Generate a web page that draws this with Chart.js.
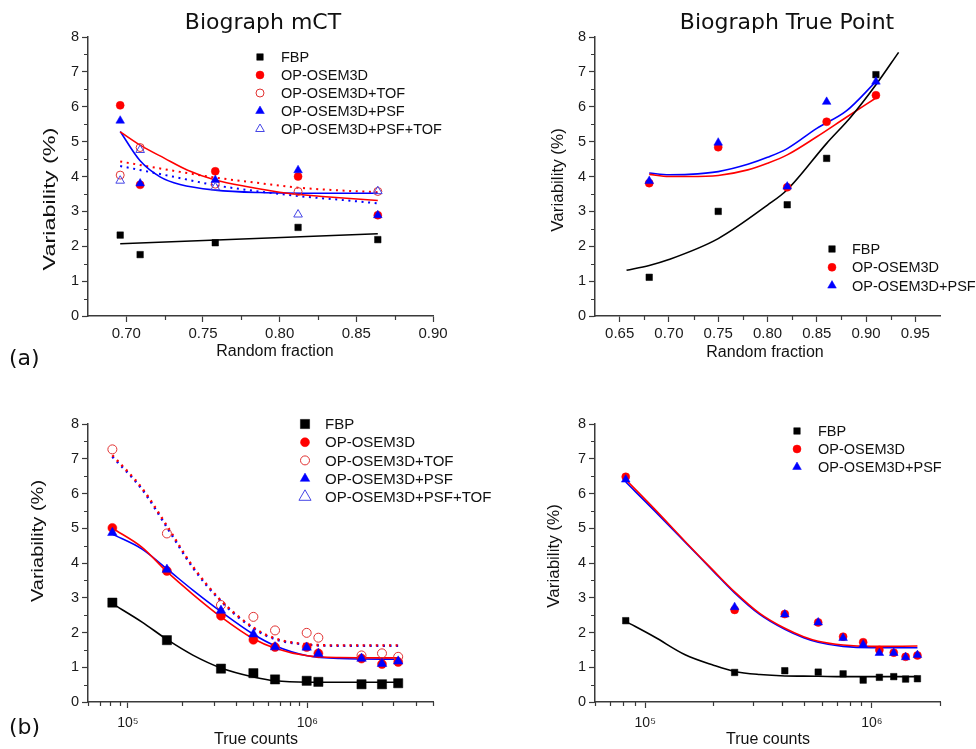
<!DOCTYPE html>
<html><head><meta charset="utf-8">
<script src="https://cdn.jsdelivr.net/npm/chart.js@4.4.1/dist/chart.umd.min.js"></script>
<style>
html,body{margin:0;padding:0;background:#fff;}
#wrap{position:relative;width:976px;height:749px;overflow:hidden;background:#fff;}
canvas{position:absolute;left:0;top:0;}
.t{position:absolute;white-space:nowrap;color:#111;line-height:1;}
.ttl{font-family:'DejaVu Sans',sans-serif;font-size:22px;transform:translate(-50%,-50%);}
.lab{font-family:'DejaVu Sans',sans-serif;font-size:22px;transform:translate(0,-50%);}
.ax{font-family:'Liberation Sans',Arial,sans-serif;font-size:16px;transform:translate(-50%,-50%);}
.yt{font-family:'Liberation Sans',Arial,sans-serif;font-size:17px;}
</style></head><body>
<div id="wrap">
<canvas id="cAL" width="976" height="749"></canvas>
<canvas id="cAR" width="976" height="749"></canvas>
<canvas id="cBL" width="976" height="749"></canvas>
<canvas id="cBR" width="976" height="749"></canvas>
<div class="t ttl" style="left:263px;top:22px">Biograph mCT</div>
<div class="t ttl" style="left:787px;top:22px">Biograph True Point</div>
<div class="t lab" style="left:9px;top:358px">(a)</div>
<div class="t lab" style="left:9px;top:727px">(b)</div>
<div class="t ax" style="left:275px;top:351px">Random fraction</div>
<div class="t ax" style="left:765px;top:352px">Random fraction</div>
<div class="t ax" style="left:256px;top:739px">True counts</div>
<div class="t ax" style="left:768px;top:739px">True counts</div>
<div class="t yt" style="left:49px;top:199px;transform:translate(-50%,-50%) rotate(-90deg) scaleX(1.38)">Variability (%)</div>
<div class="t yt" style="left:557px;top:180px;transform:translate(-50%,-50%) rotate(-90deg)">Variability (%)</div>
<div class="t yt" style="left:37px;top:541px;transform:translate(-50%,-50%) rotate(-90deg) scaleX(1.18)">Variability (%)</div>
<div class="t yt" style="left:553px;top:556px;transform:translate(-50%,-50%) rotate(-90deg)">Variability (%)</div>
</div>
<script>
// ---------- Tick labels ----------
const yTicks = [0,1,2,3,4,5,6,7,8];
const aL_xTicks = [0.70,0.75,0.80,0.85,0.90];
const aL_xTickLabels = ['0.70','0.75','0.80','0.85','0.90'];
const aR_xTicks = [0.65,0.70,0.75,0.80,0.85,0.90,0.95];
const aR_xTickLabels = ['0.65','0.70','0.75','0.80','0.85','0.90','0.95'];
const b_xTicks = [1e5,1e6];
const b_xTickLabels = ['10\u2075','10\u2076'];
const seriesNames = ['FBP','OP-OSEM3D','OP-OSEM3D+TOF','OP-OSEM3D+PSF','OP-OSEM3D+PSF+TOF'];

// ---------- (a) Biograph mCT : variability vs random fraction ----------
const aL_x       = [0.696, 0.709, 0.758, 0.812, 0.864];
const aL_fbp     = [2.32, 1.76, 2.10, 2.54, 2.19];
const aL_osem    = [6.04, 3.76, 4.15, 4.00, 2.89];
const aL_tof     = [4.04, 4.83, 3.78, 3.57, 3.57];
const aL_psf     = [5.60, 3.80, 3.90, 4.18, 2.89];
const aL_psftof  = [3.88, 4.76, 3.69, 2.91, 3.58];
// fitted curves
const aL_fitFbpX = [0.696, 0.864];
const aL_fitFbp  = [2.07, 2.36];
const aL_fitOsemX = [0.696,0.709,0.725,0.740,0.758,0.780,0.805,0.830,0.864];
const aL_fitOsem  = [5.28, 4.90, 4.52, 4.18, 3.90, 3.70, 3.52, 3.42, 3.31];
const aL_fitPsfX  = [0.696,0.709,0.722,0.735,0.758,0.787,0.830,0.864];
const aL_fitPsf   = [5.29, 4.45, 3.99, 3.77, 3.61, 3.54, 3.52, 3.52];
const aL_fitTofX  = [0.696,0.730,0.758,0.785,0.812,0.840,0.864];
const aL_fitTof   = [4.43, 4.17, 3.97, 3.82, 3.68, 3.60, 3.55];
const aL_fitPsfTofX = [0.696,0.730,0.758,0.785,0.812,0.840,0.864];
const aL_fitPsfTof  = [4.30, 4.00, 3.75, 3.58, 3.44, 3.33, 3.23];

// ---------- (a) Biograph True Point ----------
const aR_x    = [0.68, 0.75, 0.82, 0.86, 0.91];
const aR_fbp  = [1.11, 3.00, 3.19, 4.52, 6.92];
const aR_osem = [3.81, 4.84, 3.69, 5.57, 6.33];
const aR_psf  = [3.87, 4.97, 3.71, 6.14, 6.72];
const aR_fitFbpX = [0.657,0.680,0.700,0.750,0.800,0.820,0.860,0.885,0.910,0.933];
const aR_fitFbp  = [1.31, 1.45, 1.62, 2.22, 3.18, 3.62, 4.95, 5.72, 6.63, 7.56];
const aR_fitX    = [0.68,0.70,0.72,0.75,0.78,0.80,0.82,0.85,0.88,0.91];
const aR_fitOsem = [4.06,4.00,4.00,4.03,4.19,4.38,4.62,5.14,5.70,6.25];
const aR_fitPsf  = [4.10,4.05,4.06,4.14,4.35,4.55,4.80,5.38,5.88,6.72];

// ---------- (b) Biograph mCT : variability vs true counts ----------
const bL_x      = [8.2e4, 1.65e5, 3.3e5, 5.0e5, 6.6e5, 9.9e5, 1.15e6, 2.0e6, 2.6e6, 3.2e6];
const bL_fbp    = [2.86, 1.78, 0.96, 0.83, 0.65, 0.61, 0.58, 0.51, 0.51, 0.54];
const bL_osem   = [5.01, 3.77, 2.48, 1.79, 1.58, 1.58, 1.40, 1.25, 1.09, 1.15];
const bL_tof    = [7.27, 4.85, 2.79, 2.45, 2.06, 1.99, 1.85, 1.34, 1.40, 1.30];
const bL_psf    = [4.87, 3.81, 2.63, 1.95, 1.58, 1.57, 1.39, 1.25, 1.10, 1.17];
const bL_psftofX = [];
const bL_psftof  = [];
const bL_fitX      = [8.2e4, 1.2e5, 1.65e5, 2.3e5, 3.3e5, 5.0e5, 6.6e5, 1.0e6, 1.5e6, 3.2e6];
const bL_fitFbp    = [2.83, 2.30, 1.80, 1.35, 0.98, 0.72, 0.61, 0.57, 0.57, 0.57];
const bL_fitOsem   = [5.00, 4.45, 3.75, 3.10, 2.45, 1.82, 1.55, 1.33, 1.28, 1.27];
const bL_fitPsf    = [4.83, 4.40, 3.83, 3.22, 2.60, 1.95, 1.62, 1.33, 1.25, 1.23];
const bL_fitTof    = [7.10, 6.15, 5.07, 3.90, 2.92, 2.14, 1.83, 1.66, 1.63, 1.63];
const bL_fitPsfTof = [7.06, 6.12, 5.03, 3.87, 2.90, 2.12, 1.81, 1.65, 1.62, 1.62];

// ---------- (b) Biograph True Point ----------
const bR_x    = [8.2e4, 2.48e5, 4.13e5, 5.8e5, 7.47e5, 9.16e5, 1.08e6, 1.25e6, 1.41e6, 1.59e6];
const bR_fbp  = [2.34, 0.85, 0.90, 0.86, 0.81, 0.63, 0.71, 0.73, 0.66, 0.67];
const bR_osem = [6.48, 2.65, 2.53, 2.29, 1.88, 1.72, 1.50, 1.42, 1.30, 1.34];
const bR_psf  = [6.40, 2.73, 2.52, 2.29, 1.84, 1.65, 1.41, 1.41, 1.29, 1.35];
const bR_fitX    = [8.2e4, 1.1e5, 1.5e5, 2.0e5, 2.48e5, 3.2e5, 4.13e5, 5.0e5, 5.8e5, 7.47e5, 1.0e6, 1.59e6];
const bR_fitFbp  = [2.32, 1.87, 1.36, 1.06, 0.88, 0.79, 0.75, 0.745, 0.74, 0.73, 0.73, 0.73];
const bR_fitOsem = [6.40, 5.55, 4.62, 3.78, 3.17, 2.55, 2.12, 1.88, 1.75, 1.64, 1.60, 1.61];
const bR_fitPsf  = [6.33, 5.50, 4.60, 3.76, 3.14, 2.52, 2.09, 1.85, 1.72, 1.60, 1.56, 1.56];

// ---------- helpers ----------
const RED = '#ff0000', BLUE = '#0000ff', BLACK = '#000000';
const pts = (xs, ys) => xs.map((x, i) => ({x, y: ys[i]}));

function marker(label, xs, ys, style, color, open, r, order) {
  return {
    label, data: pts(xs, ys), inLegend: true, order,
    pointStyle: style, pointRadius: r, pointHoverRadius: r,
    backgroundColor: open ? 'rgba(0,0,0,0)' : color,
    borderColor: open ? (color === RED ? 'rgb(225,50,50)' : 'rgb(70,70,230)') : color,
    pointBorderWidth: open ? 1 : 0.5, showLine: false
  };
}
function fit(xs, ys, color, dotted, w) {
  return {
    label: '', data: pts(xs, ys), inLegend: false, order: 100,
    showLine: true, pointRadius: 0, pointHoverRadius: 0, borderColor: color,
    borderWidth: w || (dotted ? 2 : 1.6), borderDash: dotted ? [2, 4.6] : [],
    cubicInterpolationMode: 'monotone', fill: false
  };
}

function drawMarker(ctx, style, x, y, r, fillC, strokeC, lw) {
  ctx.save();
  ctx.beginPath();
  if (style === 'rect') {
    const s = r * Math.SQRT1_2;
    ctx.rect(x - s, y - s, 2 * s, 2 * s);
  } else if (style === 'triangle') {
    let a = 0;
    ctx.moveTo(x + Math.sin(a) * r, y - Math.cos(a) * r);
    a += 2 * Math.PI / 3;
    ctx.lineTo(x + Math.sin(a) * r, y - Math.cos(a) * r);
    a += 2 * Math.PI / 3;
    ctx.lineTo(x + Math.sin(a) * r, y - Math.cos(a) * r);
    ctx.closePath();
  } else {
    ctx.arc(x, y, r, 0, Math.PI * 2);
  }
  ctx.fillStyle = fillC; ctx.fill();
  ctx.lineWidth = lw; ctx.strokeStyle = strokeC; ctx.stroke();
  ctx.restore();
}

const legendPlugin = {
  id: 'ptLegend',
  afterDraw(chart, args, o) {
    if (!o || !o.show) return;
    const ctx = chart.ctx;
    ctx.save();
    ctx.font = o.font;
    ctx.textBaseline = 'middle';
    let row = 0;
    chart.data.datasets.forEach(ds => {
      if (!ds.inLegend) return;
      const y = o.y + row * o.dy;
      drawMarker(ctx, ds.pointStyle, o.markerX, y, (o.r && o.r[row]) || ds.pointRadius,
                 ds.backgroundColor, ds.borderColor, ds.pointBorderWidth);
      ctx.fillStyle = '#111';
      ctx.fillText(ds.label, o.textX, y + 1);
      row++;
    });
    ctx.restore();
  }
};

const minorPlugin = {
  id: 'minorTicks',
  afterDraw(chart, args, o) {
    if (!o || !o.show) return;
    const ctx = chart.ctx, ca = chart.chartArea;
    const xs = chart.scales.x, ys = chart.scales.y;
    ctx.save();
    ctx.strokeStyle = '#3a3a3a'; ctx.lineWidth = 1.2;
    ctx.beginPath();
    (o.x || []).forEach(v => {
      const p = Math.round(xs.getPixelForValue(v)) + 0.5;
      ctx.moveTo(p, ca.bottom); ctx.lineTo(p, ca.bottom + o.len);
    });
    (o.y || []).forEach(v => {
      const p = Math.round(ys.getPixelForValue(v)) + 0.5;
      ctx.moveTo(ca.left, p); ctx.lineTo(ca.left - o.len, p);
    });
    ctx.stroke();
    ctx.restore();
  }
};

Chart.defaults.font.family = "'Liberation Sans', Arial, sans-serif";
Chart.defaults.font.size = 14;
Chart.defaults.color = '#1a1a1a';
Chart.defaults.animation = false;

const yMinor = [0.5,1.5,2.5,3.5,4.5,5.5,6.5,7.5];
const decadeMinor = (decades, mults) => decades.flatMap(d => mults.map(m => m * d));
const Y_W = 60, X_H = 40;   // fixed scale box sizes

function axisCommon() {
  return {
    grid: { display: true, drawOnChartArea: false, drawTicks: true, tickLength: 6,
            tickColor: '#3a3a3a', tickWidth: 1.2 },
    border: { display: true, color: '#3a3a3a', width: 1.5 },
    afterFit: s => { if (s.isHorizontal()) s.height = X_H; else s.width = Y_W; }
  };
}

// area = chart-area edges in page pixels
function makeChart(id, area, xCfg, datasets, legend, minor) {
  const pad = { left: area.left - Y_W, top: area.top, right: 976 - area.right, bottom: 749 - area.bottom - X_H };
  const yAxis = Object.assign(axisCommon(), {
    type: 'linear', min: 0, max: 8,
    afterBuildTicks: s => { s.ticks = yTicks.map(v => ({value: v})); },
    ticks: { padding: 3, autoSkip: false, font: {size: 14.5}, callback: v => String(v) }
  });
  const xAxis = Object.assign(axisCommon(), xCfg);
  return new Chart(document.getElementById(id), {
    type: 'scatter',
    data: { datasets },
    options: {
      responsive: false, devicePixelRatio: 1,
      layout: { padding: pad },
      plugins: { legend: {display: false}, tooltip: {enabled: false},
                 ptLegend: legend, minorTicks: minor },
      scales: { x: xAxis, y: yAxis }
    },
    plugins: [legendPlugin, minorPlugin]
  });
}

function linX(min, max, ticks, labels) {
  return {
    type: 'linear', min, max,
    afterBuildTicks: s => { s.ticks = ticks.map(v => ({value: v})); },
    ticks: { padding: 3, autoSkip: false, maxRotation: 0, font: {size: 15},
             callback: (v, i) => labels[i] }
  };
}
function logX(min, max) {
  return {
    type: 'logarithmic', min, max,
    afterBuildTicks: s => { s.ticks = b_xTicks.map(v => ({value: v})); },
    ticks: { padding: 7, autoSkip: false, maxRotation: 0, font: {size: 14},
             callback: (v, i) => b_xTickLabels[i] }
  };
}

// ---- Panel (a) left ----
makeChart('cAL', {left: 88, top: 37, right: 433, bottom: 316},
  linX(0.675, 0.90, aL_xTicks, aL_xTickLabels),
  [
    marker(seriesNames[0], aL_x, aL_fbp, 'rect', BLACK, false, 4.6, 10),
    marker(seriesNames[1], aL_x, aL_osem, 'circle', RED, false, 4, 9),
    marker(seriesNames[2], aL_x, aL_tof, 'circle', RED, true, 4, 8),
    marker(seriesNames[3], aL_x, aL_psf, 'triangle', BLUE, false, 5, 7),
    marker(seriesNames[4], aL_x, aL_psftof, 'triangle', BLUE, true, 5, 6),
    fit(aL_fitFbpX, aL_fitFbp, BLACK, false),
    fit(aL_fitOsemX, aL_fitOsem, RED, false),
    fit(aL_fitPsfX, aL_fitPsf, BLUE, false),
    fit(aL_fitTofX, aL_fitTof, RED, true),
    fit(aL_fitPsfTofX, aL_fitPsfTof, BLUE, true)
  ],
  {show: true, markerX: 260, textX: 281, y: 57, dy: 18, font: "14.5px 'Liberation Sans', Arial, sans-serif"},
  {show: true, len: 4, x: [0.725, 0.775, 0.825, 0.875], y: yMinor});

// ---- Panel (a) right ----
makeChart('cAR', {left: 595, top: 37, right: 940, bottom: 316},
  linX(0.625, 0.975, aR_xTicks, aR_xTickLabels),
  [
    marker(seriesNames[0], aR_x, aR_fbp, 'rect', BLACK, false, 4.6, 10),
    marker(seriesNames[1], aR_x, aR_osem, 'circle', RED, false, 4, 9),
    marker(seriesNames[3], aR_x, aR_psf, 'triangle', BLUE, false, 5, 7),
    fit(aR_fitFbpX, aR_fitFbp, BLACK, false),
    fit(aR_fitX, aR_fitOsem, RED, false),
    fit(aR_fitX, aR_fitPsf, BLUE, false)
  ],
  {show: true, markerX: 832, textX: 852, y: 249, dy: 18.3, font: "14.5px 'Liberation Sans', Arial, sans-serif"},
  {show: true, len: 4, x: [0.675, 0.725, 0.775, 0.825, 0.875, 0.925], y: yMinor});

// ---- Panel (b) left ----
makeChart('cBL', {left: 88, top: 424, right: 433, bottom: 702},
  logX(6e4, 5e6),
  [
    marker(seriesNames[0], bL_x, bL_fbp, 'rect', BLACK, false, 6.5, 10),
    marker(seriesNames[1], bL_x, bL_osem, 'circle', RED, false, 4.5, 9),
    marker(seriesNames[2], bL_x, bL_tof, 'circle', RED, true, 4.5, 8),
    marker(seriesNames[3], bL_x, bL_psf, 'triangle', BLUE, false, 5.5, 7),
    marker(seriesNames[4], bL_psftofX, bL_psftof, 'triangle', BLUE, true, 7, 6),
    fit(bL_fitX, bL_fitFbp, BLACK, false, 1.6),
    fit(bL_fitX, bL_fitOsem, RED, false),
    fit(bL_fitX, bL_fitPsf, BLUE, false),
    fit(bL_fitX, bL_fitTof, RED, true, 2.4),
    fit(bL_fitX, bL_fitPsfTof, BLUE, true, 2.4)
  ],
  {show: true, markerX: 305, textX: 325, y: 424, dy: 18.2, font: "15px 'Liberation Sans', Arial, sans-serif"},
  {show: true, len: 4, x: decadeMinor([1e4], [6,7,8,9]).concat(decadeMinor([1e5], [2,3,4,5,6,7,8,9])).concat(decadeMinor([1e6], [2,3,4,5])), y: yMinor});

// ---- Panel (b) right ----
makeChart('cBR', {left: 595, top: 424, right: 940, bottom: 702},
  logX(6e4, 2e6),
  [
    marker(seriesNames[0], bR_x, bR_fbp, 'rect', BLACK, false, 4.6, 10),
    marker(seriesNames[1], bR_x, bR_osem, 'circle', RED, false, 4, 9),
    marker(seriesNames[3], bR_x, bR_psf, 'triangle', BLUE, false, 5, 7),
    fit(bR_fitX, bR_fitFbp, BLACK, false),
    fit(bR_fitX, bR_fitOsem, RED, false),
    fit(bR_fitX, bR_fitPsf, BLUE, false)
  ],
  {show: true, markerX: 797, textX: 818, y: 431, dy: 18, font: "14.5px 'Liberation Sans', Arial, sans-serif"},
  {show: true, len: 4, x: decadeMinor([1e4], [6,7,8,9]).concat(decadeMinor([1e5], [2,3,4,5,6,7,8,9])).concat([2e6]), y: yMinor});
</script>
</body></html>
